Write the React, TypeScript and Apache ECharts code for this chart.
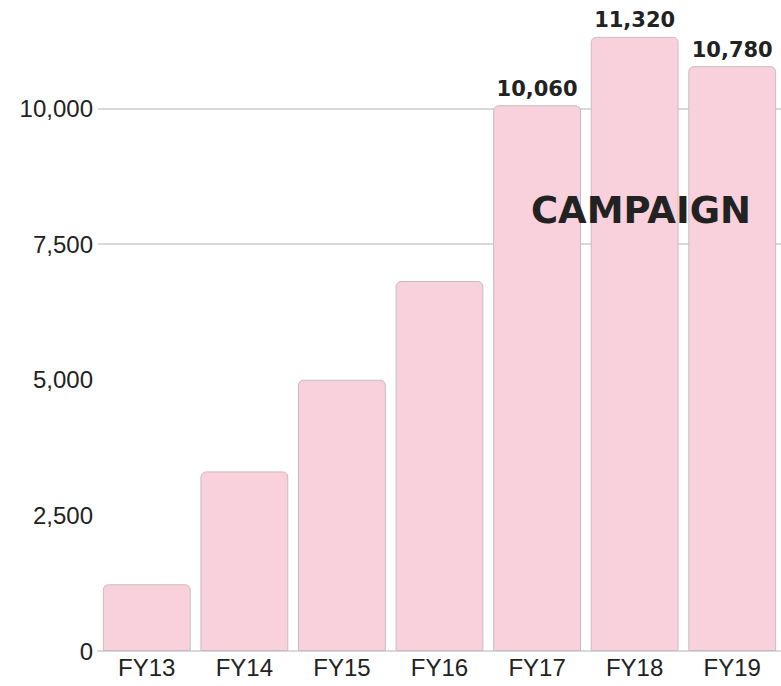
import React, { useEffect, useRef } from "react";
import * as echarts from "echarts";

const categories = ["FY13", "FY14", "FY15", "FY16", "FY17", "FY18", "FY19"];
const values = [1230, 3310, 5000, 6820, 10060, 11320, 10780];
const labelledIndexes = [4, 5, 6];
const annotation = "CAMPAIGN";

export default function App() {
  const ref = useRef<HTMLDivElement>(null);
  useEffect(() => {
    if (!ref.current) return;
    const chart = echarts.init(ref.current, undefined, { renderer: "svg" });
    const fmt = (v: number) => v.toLocaleString("en-US");
    chart.setOption({
      animation: false,
      backgroundColor: "#ffffff",
      grid: { left: 98, top: 0, width: 686, height: 651, containLabel: false },
      xAxis: {
        type: "category",
        data: categories,
        axisTick: { show: false },
        axisLine: { show: true, lineStyle: { color: "#cccccc", width: 1.5 } },
        axisLabel: {
          color: "#222222",
          fontFamily: "Liberation Sans",
          fontSize: 24,
          margin: 4,
        },
      },
      yAxis: {
        type: "value",
        min: 0,
        max: 12000,
        interval: 2500,
        axisLine: { show: false },
        axisTick: { show: false },
        axisLabel: {
          color: "#222222",
          fontFamily: "Liberation Sans",
          fontSize: 24,
          margin: 5,
          formatter: (v: number) => (v % 2500 === 0 ? fmt(v) : ""),
        },
        splitLine: {
          show: true,
          lineStyle: {
            width: 1.5,
            color: [
              "rgba(0,0,0,0)",
              "rgba(0,0,0,0)",
              "rgba(0,0,0,0)",
              "#cccccc",
              "#cccccc",
              "rgba(0,0,0,0)",
            ],
          },
        },
      },
      series: [
        {
          type: "bar",
          data: values.map((v, i) => ({
            value: v,
            label: { show: labelledIndexes.includes(i) },
          })),
          barCategoryGap: "10%",
          itemStyle: {
            color: "#f8d1dd",
            borderColor: "#c9bcc0",
            borderWidth: 1,
            borderRadius: [5, 5, 0, 0],
          },
          label: {
            position: "top",
            distance: 6,
            color: "#222222",
            fontFamily: "DejaVu Sans",
            fontWeight: "bold",
            fontSize: 21,
            formatter: (p: any) => fmt(p.value),
          },
        },
      ],
      graphic: [
        {
          type: "text",
          x: 641,
          y: 210,
          z: 100,
          style: {
            text: annotation,
            fill: "#222222",
            font: "bold 37px 'DejaVu Sans'",
            textAlign: "center",
            textVerticalAlign: "middle",
          },
        },
      ],
    });
    return () => chart.dispose();
  }, []);
  return (
    <div
      ref={ref}
      style={{ position: "absolute", left: 0, top: 0, width: 781, height: 686 }}
    />
  );
}
